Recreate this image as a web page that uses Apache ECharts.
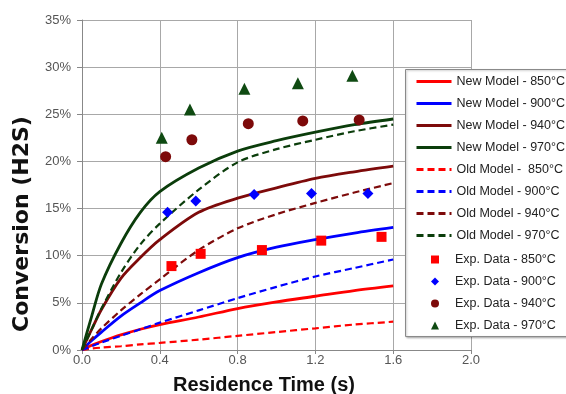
<!DOCTYPE html>
<html>
<head>
<meta charset="utf-8">
<script src="https://cdn.jsdelivr.net/npm/echarts@6/dist/echarts.min.js"></script>
<style>
  html, body { margin: 0; padding: 0; background: #fff; }
  #chart { width: 566px; height: 394px; }
</style>
</head>
<body>
<div id="chart"></div>
<script>
// residence time points the model curves were read at (s)
const modelTime = [0, 0.05, 0.1, 0.2, 0.3, 0.4, 0.6, 0.8, 1.0, 1.2, 1.4, 1.6]

// model curves, conversion in %
const newModel850 = [0, 0.5, 0.9, 1.6, 2.2, 2.7, 3.5, 4.4, 5.1, 5.7, 6.3, 6.8]
const newModel900 = [0, 1.0, 1.9, 3.6, 5.0, 6.3, 8.2, 9.8, 10.9, 11.7, 12.4, 13.0]
const newModel940 = [0, 2.2, 4.3, 7.6, 9.8, 11.7, 14.6, 16.1, 17.2, 18.2, 18.9, 19.5]
const newModel970 = [0, 3.6, 7.0, 11.3, 14.6, 16.8, 19.3, 21.1, 22.2, 23.1, 23.9, 24.5]
const oldModel850 = [0, 0.15, 0.25, 0.4, 0.6, 0.75, 1.1, 1.5, 1.9, 2.3, 2.7, 3.0]
const oldModel900 = [0, 0.4, 0.8, 1.5, 2.2, 2.9, 4.2, 5.5, 6.7, 7.8, 8.7, 9.6]
const oldModel940 = [0, 1.2, 2.3, 4.2, 5.9, 7.5, 10.6, 12.9, 14.4, 15.6, 16.7, 17.7]
const oldModel970 = [0, 2.2, 4.4, 8.2, 11.2, 13.4, 17.0, 19.9, 21.3, 22.3, 23.2, 23.9]

// experimental points
const exp850Time = [0.46, 0.61, 0.925, 1.23, 1.54]
const exp850Conv = [8.9, 10.2, 10.6, 11.6, 12.0]
const exp900Time = [0.44, 0.585, 0.885, 1.18, 1.47]
const exp900Conv = [14.6, 15.8, 16.5, 16.6, 16.6]
const exp940Time = [0.43, 0.565, 0.855, 1.135, 1.425]
const exp940Conv = [20.5, 22.3, 24.0, 24.3, 24.4]
const exp970Time = [0.41, 0.555, 0.835, 1.11, 1.39]
const exp970Conv = [22.5, 25.5, 27.7, 28.3, 29.1]

const RED = '#ff0000'
const BLUE = '#0000ff'
const BROWN = '#7d0a0a'
const GREEN = '#0b3d0b'
const FONT = 'Arial, "Liberation Sans", sans-serif'

const zip = (xs, ys) => xs.map((x, i) => [x, ys[i]])

const lineSeries = (name, values, color, dashed) => ({
    name: name,
    type: 'line',
    data: zip(modelTime, values),
    smooth: 0.3,
    symbol: 'none',
    z: 3,
    itemStyle: { color: color },
    lineStyle: {
        color: color,
        width: dashed ? 2.2 : 2.8,
        type: dashed ? [7, 4] : 'solid'
    }
})

const expSeries = (name, xs, ys, color, symbol, size) => ({
    name: name,
    type: 'scatter',
    data: zip(xs, ys),
    symbol: symbol,
    symbolSize: size,
    z: 4,
    itemStyle: { color: color, opacity: 1 }
})

const chart = echarts.init(document.getElementById('chart'))

chart.setOption({
    animation: false,
    textStyle: { fontFamily: FONT },
    grid: { left: 82, right: 95, top: 20, bottom: 44 },
    xAxis: {
        type: 'value',
        min: 0,
        max: 2,
        interval: 0.4,
        axisLine: { lineStyle: { color: '#888' } },
        axisTick: { show: true, length: 4, lineStyle: { color: '#888' } },
        axisLabel: { fontSize: 13, color: '#555', margin: 4, formatter: v => v.toFixed(1) },
        splitLine: { show: true, lineStyle: { color: '#a8a8a8', width: 1 } }
    },
    yAxis: {
        type: 'value',
        min: 0,
        max: 35,
        interval: 5,
        axisLine: { show: true, lineStyle: { color: '#888' } },
        axisTick: { show: true, length: 5, lineStyle: { color: '#888' } },
        axisLabel: { fontSize: 13, color: '#555', margin: 11, formatter: '{value}%' },
        splitLine: { show: true, lineStyle: { color: '#a8a8a8', width: 1 } }
    },
    graphic: [{
        // legend box
        type: 'rect',
        left: 405,
        top: 69,
        z: 10,
        shape: { width: 175, height: 267 },
        style: { fill: '#fff', stroke: '#8a8a8a', lineWidth: 1, shadowBlur: 2, shadowColor: 'rgba(0,0,0,0.25)', shadowOffsetX: 1, shadowOffsetY: 1 }
    }, {
        // axis titles
        type: 'text',
        x: 264,
        y: 385,
        style: { text: 'Residence Time (s)', fill: '#111', font: 'bold 20px Arial, "Liberation Sans", sans-serif', align: 'center', verticalAlign: 'middle' }
    }, {
        type: 'text',
        x: 22,
        y: 224,
        rotation: Math.PI / 2,
        style: { text: 'Conversion (H2S)', fill: '#111', font: 'bold 22px "DejaVu Sans", Arial, sans-serif', align: 'center', verticalAlign: 'middle' }
    }],
    legend: [{
        orient: 'vertical',
        left: 415,
        top: 75,
        z: 20,
        itemWidth: 35,
        itemHeight: 14,
        itemGap: 9,
        padding: 0,
        itemStyle: { opacity: 0 },
        lineStyle: { width: 3 },
        textStyle: { fontSize: 12.5, color: '#222', fontFamily: FONT },
        data: ['New Model - 850°C', 'New Model - 900°C', 'New Model - 940°C', 'New Model - 970°C',
            'Old Model -  850°C', 'Old Model - 900°C', 'Old Model - 940°C', 'Old Model - 970°C']
    }, {
        orient: 'vertical',
        left: 431,
        top: 253,
        z: 20,
        itemWidth: 8,
        itemHeight: 8,
        itemGap: 9,
        padding: 0,
        textStyle: { fontSize: 12.5, color: '#222', fontFamily: FONT, padding: [0, 0, 0, 11] },
        data: ['Exp. Data - 850°C', 'Exp. Data - 900°C', 'Exp. Data - 940°C', 'Exp. Data - 970°C']
    }],
    series: [
        lineSeries('New Model - 850°C', newModel850, RED, false),
        lineSeries('New Model - 900°C', newModel900, BLUE, false),
        lineSeries('New Model - 940°C', newModel940, BROWN, false),
        lineSeries('New Model - 970°C', newModel970, GREEN, false),
        lineSeries('Old Model -  850°C', oldModel850, RED, true),
        lineSeries('Old Model - 900°C', oldModel900, BLUE, true),
        lineSeries('Old Model - 940°C', oldModel940, BROWN, true),
        lineSeries('Old Model - 970°C', oldModel970, GREEN, true),
        expSeries('Exp. Data - 850°C', exp850Time, exp850Conv, RED, 'rect', 10),
        expSeries('Exp. Data - 900°C', exp900Time, exp900Conv, BLUE, 'diamond', 11),
        expSeries('Exp. Data - 940°C', exp940Time, exp940Conv, BROWN, 'circle', 11),
        expSeries('Exp. Data - 970°C', exp970Time, exp970Conv, '#0f4a12', 'triangle', 12)
    ]
})
</script>
</body>
</html>
